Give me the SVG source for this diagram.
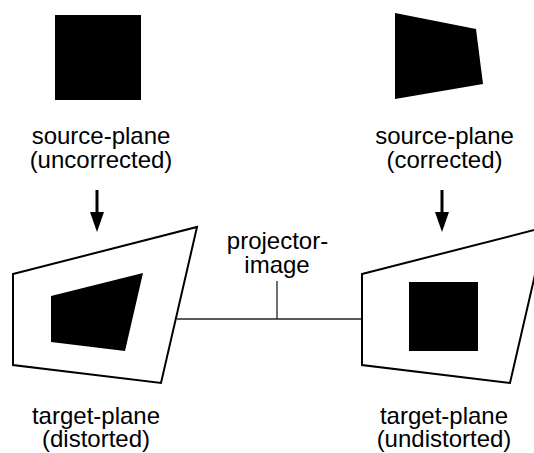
<svg xmlns="http://www.w3.org/2000/svg" width="534" height="453" viewBox="0 0 534 453">
  <style>
    .lbl { font-family: "Liberation Sans", Arial, sans-serif; font-size: 24px; fill: #000; text-anchor: middle; }
    .frame { fill: #fff; stroke: #000; stroke-width: 2; stroke-linejoin: miter; }
    .solid { fill: #000; stroke: none; }
    .link { fill: none; stroke: #222; stroke-width: 1.3; }
    .shaft { stroke: #000; stroke-width: 3; }
  </style>
  <defs>
    <!-- arrowhead: 20px long, 14px wide, base sits at the end of the shaft -->
    <marker id="head" viewBox="0 0 20 14" refX="0" refY="7" markerWidth="6.667" markerHeight="4.667" markerUnits="strokeWidth" orient="auto">
      <path d="M0,0 L20,7 L0,14 Z" fill="#000"/>
    </marker>
  </defs>

  <!-- connectors: projector-image link and the two down arrows -->
  <g id="connectors">
    <path class="link" d="M177,319 H362"/>
    <path class="link" d="M277,319 V281"/>
    <line class="shaft" x1="97" y1="190" x2="97" y2="212" marker-end="url(#head)"/>
    <line class="shaft" x1="442" y1="190" x2="442" y2="212" marker-end="url(#head)"/>
  </g>

  <!-- source plane, uncorrected -->
  <g id="source-uncorrected">
    <rect class="solid" x="55" y="15" width="86" height="85"/>
    <text class="lbl" x="101" y="144">source-plane</text>
    <text class="lbl" x="101" y="168">(uncorrected)</text>
  </g>

  <!-- source plane, corrected (pre-warped) -->
  <g id="source-corrected">
    <polygon class="solid" points="395,13 476,29 483,84 395,99"/>
    <text class="lbl" x="444.5" y="144">source-plane</text>
    <text class="lbl" x="444.5" y="168">(corrected)</text>
  </g>

  <!-- target plane, distorted -->
  <g id="target-distorted">
    <polygon class="frame" points="13,274 197,227 161,383 13,365"/>
    <polygon class="solid" points="51,296 143,273 125,351 51,342"/>
    <text class="lbl" x="96" y="424">target-plane</text>
    <text class="lbl" x="96" y="447">(distorted)</text>
  </g>

  <!-- target plane, undistorted -->
  <g id="target-undistorted">
    <polygon class="frame" points="362,274 546,227 510,383 362,365"/>
    <rect class="solid" x="409" y="282" width="69" height="69"/>
    <text class="lbl" x="444" y="424">target-plane</text>
    <text class="lbl" x="444" y="447">(undistorted)</text>
  </g>

  <!-- projector image label -->
  <g id="projector-image">
    <text class="lbl" x="277.5" y="249">projector-</text>
    <text class="lbl" x="277" y="273">image</text>
  </g>
</svg>
